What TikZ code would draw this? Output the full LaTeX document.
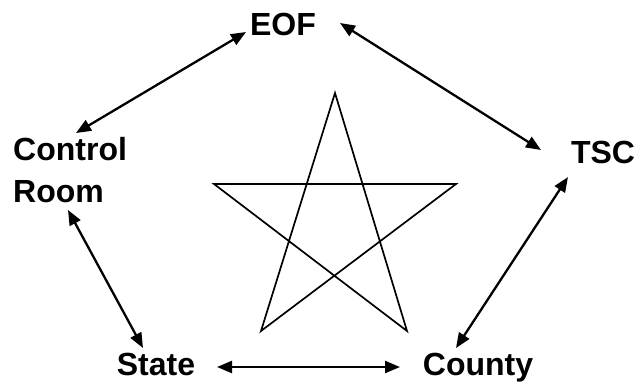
\documentclass[tikz,border=0pt]{standalone}
\usepackage{fontspec}
\setmainfont{Liberation Sans}
\usetikzlibrary{arrows.meta}
\begin{document}
\begin{tikzpicture}[x=1pt,y=-1pt,
  lbl/.style={font=\fontsize{32}{42}\selectfont\bfseries, inner sep=0pt},
  link/.style={line width=2.3pt, {Triangle[length=15pt,width=12pt]}-{Triangle[length=15pt,width=12pt]}},
  starline/.style={line width=1.7pt, line join=miter}]
\useasboundingbox (0,0) rectangle (640,386);
% labels
\node[lbl, anchor=base] (eof) at (283,35) {EOF};
\node[lbl, anchor=north west, align=left] (ctrl) at (13,137) {Control\\Room};
\node[lbl, anchor=base] (tsc) at (603,163) {TSC};
\node[lbl, anchor=base] (state) at (156,375) {State};
\node[lbl, anchor=base] (county) at (478,375) {County};
% connectors
\draw[link] ([shift={(-37,-3)}]eof.base) -- ([shift={(63,-4)}]ctrl.north west);
\draw[link] ([shift={(57,-12)}]eof.base) -- ([shift={(-62,-13)}]tsc.base);
\draw[link] ([shift={(-35,14)}]tsc.base) -- ([shift={(-22,-27)}]county.base);
\draw[link] ([shift={(55,73)}]ctrl.north west) -- ([shift={(-13,-27)}]state.base);
\draw[link] ([shift={(61,-8)}]state.base) -- ([shift={(-78,-8)}]county.base);
% star
\coordinate (st) at (335,93);
\coordinate (sl) at (214,184);
\coordinate (sr) at (456,184);
\coordinate (sbl) at (261,331);
\coordinate (sbr) at (407,331);
\draw[starline] (st) -- (sbl) -- (sr) -- (sl) -- (sbr) -- cycle;
\end{tikzpicture}
\end{document}
